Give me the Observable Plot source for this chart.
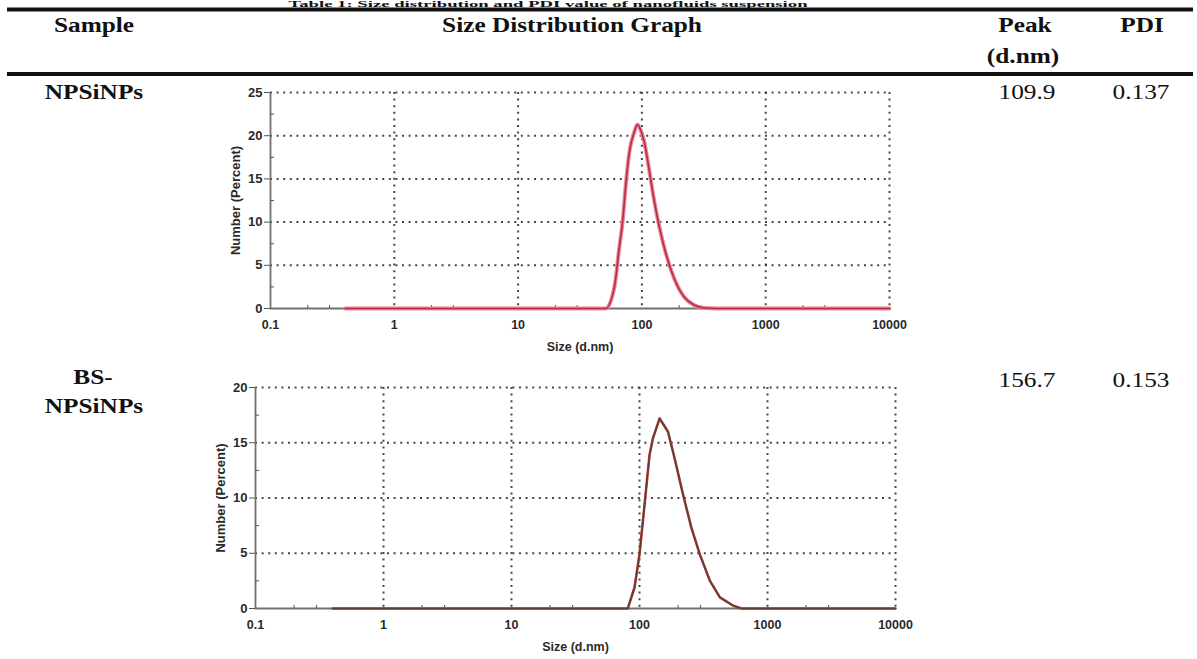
<!DOCTYPE html>
<html>
<head>
<meta charset="utf-8">
<script src="https://cdn.jsdelivr.net/npm/d3@7"></script>
<script src="https://cdn.jsdelivr.net/npm/@observablehq/plot@0.6"></script>
<style>
  html, body { margin: 0; padding: 0; background: #fff; }
  #page { position: relative; width: 1197px; height: 659px; overflow: hidden; background: #fff; }
  #table { position: absolute; left: 0; top: 0; }
  #table text { font-family: "Times New Roman", "Liberation Serif", Times, Tinos, serif; }
  .chart { position: absolute; }
  .chart svg { display: block; overflow: visible; }
</style>
</head>
<body>
<div id="page">
  <svg id="table" width="1197" height="659"></svg>
  <div id="c1" class="chart" style="left:200px; top:80px;"></div>
  <div id="c2" class="chart" style="left:190px; top:370px;"></div>
</div>
<script>
// ---------- data ----------
const tableTitle = "Table 1: Size distribution and PDI value of nanofluids suspension";
const headers = ["Sample", "Size Distribution Graph", "Peak", "(d.nm)", "PDI"];
const samples = [["NPSiNPs"], ["BS-", "NPSiNPs"]];
const peaks = ["109.9", "156.7"];
const pdis = ["0.137", "0.153"];

const xTicks = [0.1, 1, 10, 100, 1000, 10000];
const xMinor = [0.2, 0.3, 2, 3, 20, 30, 200, 300, 2000, 3000];
const yTicksTop = [0, 5, 10, 15, 20, 25];
const yMinorTop = [2.5, 7.5, 12.5, 17.5, 22.5];
const yTicksBottom = [0, 5, 10, 15, 20];
const yMinorBottom = [2.5, 7.5, 12.5, 17.5];

// NPSiNPs size distribution (d.nm vs Number %)
const sizeTop = [0.4, 1, 10, 40, 51, 60, 65.7, 69.8, 74.3, 79, 86.7, 92, 98, 104.4, 114.6, 125.6, 138, 156, 182, 219, 264, 318, 400, 1000, 10000];
const numberTop = [0, 0, 0, 0, 0, 2.5, 7.1, 10, 14.5, 18, 20.4, 21.3, 20.6, 19.3, 16, 12.5, 9.5, 6.4, 3.5, 1.35, 0.4, 0.05, 0, 0, 0];

// BS-NPSiNPs size distribution
const sizeBottom = [0.4, 1, 10, 50, 81, 91.4, 100, 109.5, 119.8, 127.3, 143.6, 167, 188, 219, 254.5, 296, 355, 425, 541, 628, 1000, 10000];
const numberBottom = [0, 0, 0, 0, 0, 1.9, 4.9, 9.4, 13.9, 15.4, 17.2, 16, 13.6, 10.3, 7.3, 4.9, 2.5, 1.0, 0.25, 0, 0, 0];

// ---------- table (header, rules, cell text) ----------
const tsvg = d3.select("#table");
function txt(s, cx, by, opts = {}) {
  tsvg.append("text")
    .attr("transform", `translate(${cx},${by}) scale(${opts.sx ?? 1.15},1)`)
    .attr("text-anchor", "middle")
    .style("font-size", (opts.size ?? 22) + "px")
    .style("font-weight", opts.bold ? "bold" : "normal")
    .attr("fill", "#111")
    .text(s);
}
txt(tableTitle, 548, 6.5, {bold: true, size: 8.5, sx: 2.2});
tsvg.append("rect").attr("x", 7).attr("y", 7.5).attr("width", 1186).attr("height", 4).attr("fill", "#111");
tsvg.append("rect").attr("x", 7).attr("y", 72).attr("width", 1186).attr("height", 4).attr("fill", "#111");
txt(headers[0], 94, 32, {bold: true});
txt(headers[1], 572, 32, {bold: true});
txt(headers[2], 1025, 32, {bold: true});
txt(headers[3], 1023, 63, {bold: true});
txt(headers[4], 1142, 32, {bold: true});
txt(samples[0][0], 94, 99, {bold: true});
txt(samples[1][0], 93, 384, {bold: true});
txt(samples[1][1], 94, 413, {bold: true});
txt(peaks[0], 1027, 99);
txt(pdis[0], 1141, 99);
txt(peaks[1], 1027, 387);
txt(pdis[1], 1141, 387);

// ---------- charts ----------
const fmt = d => d < 1 ? "0.1" : d3.format("d")(d);
const dotted = {stroke: "#333", strokeOpacity: 0.9, strokeWidth: 2, strokeDasharray: "2,4.6"};

function sizeChart({sizes, values, yTicks, yMinor, yMax, width, height, ml, mr, mt, mb, lines}) {
  const data = sizes.map((s, i) => ({size: s, value: values[i]}));
  return Plot.plot({
    width, height,
    marginLeft: ml, marginRight: mr, marginTop: mt, marginBottom: mb,
    style: {fontFamily: "Arial, 'Liberation Sans', Helvetica, Arimo, sans-serif", fontWeight: "bold", fontSize: "12px", color: "#2a2a2a", background: "transparent", overflow: "visible"},
    x: {type: "log", domain: [0.1, 10000], label: null},
    y: {domain: [0, yMax], label: null},
    marks: [
      Plot.gridX(xTicks.slice(1), dotted),
      Plot.gridY(yTicks.slice(1), dotted),
      Plot.ruleX([0.1], {stroke: "#707070", strokeWidth: 1.8}),
      Plot.ruleY([0], {stroke: "#707070", strokeWidth: 1.8}),
      Plot.axisX(xMinor, {tickSize: 3, dy: -3, tickFormat: () => "", label: null, stroke: "#555"}),
      Plot.axisX(xTicks, {tickSize: 0, tickPadding: 12, tickFormat: fmt, label: "Size (d.nm)", labelAnchor: "center", labelArrow: "none", labelOffset: 42, fontSize: 12.5}),
      Plot.axisY(yMinor, {tickSize: 4, dx: 4, tickFormat: () => "", label: null, stroke: "#555"}),
      Plot.axisY(yTicks, {tickSize: 6, tickPadding: 2, stroke: "#555", label: "Number (Percent)", labelAnchor: "center", labelArrow: "none", labelOffset: 40, fontSize: 13}),
      ...lines.map(l => Plot.line(data, {x: "size", y: "value", stroke: l.stroke, strokeWidth: l.width, curve: l.curve ?? "linear"}))
    ]
  });
}

document.getElementById("c1").append(sizeChart({
  sizes: sizeTop, values: numberTop, yTicks: yTicksTop, yMinor: yMinorTop, yMax: 25,
  width: 720, height: 285, ml: 70, mr: 31, mt: 12, mb: 57,
  lines: [
    {stroke: "#e58a9b", width: 4, curve: "monotone-x"},
    {stroke: "#c0283f", width: 1.6, curve: "monotone-x"}
  ]
}));

document.getElementById("c2").append(sizeChart({
  sizes: sizeBottom, values: numberBottom, yTicks: yTicksBottom, yMinor: yMinorBottom, yMax: 20,
  width: 730, height: 289, ml: 65, mr: 25, mt: 17, mb: 51,
  lines: [
    {stroke: "#c8402e", width: 2.6},
    {stroke: "#5a4038", width: 1.6}
  ]
}));
</script>
</body>
</html>
